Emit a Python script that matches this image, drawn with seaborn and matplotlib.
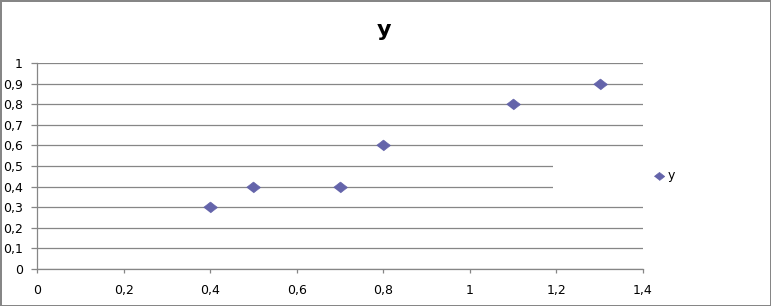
import pandas as pd
import matplotlib
matplotlib.use("Agg")
from matplotlib import pyplot as plt
from matplotlib.patches import Rectangle
import seaborn as sns

# data
x_values = [0.4, 0.5, 0.7, 0.8, 1.1, 1.3]
y_values = [0.3, 0.4, 0.4, 0.6, 0.8, 0.9]
x_ticks = [0, 0.2, 0.4, 0.6, 0.8, 1.0, 1.2, 1.4]
x_tick_labels = ["0", "0,2", "0,4", "0,6", "0,8", "1", "1,2", "1,4"]
y_ticks = [0, 0.1, 0.2, 0.3, 0.4, 0.5, 0.6, 0.7, 0.8, 0.9, 1.0]
y_tick_labels = ["0", "0,1", "0,2", "0,3", "0,4", "0,5", "0,6", "0,7", "0,8", "0,9", "1"]
series_name = "y"

grey = "#868686"
marker_color = "#6464AA"
diamond = [(-1, 0), (0, 0.78), (1, 0), (0, -0.78)]

sns.set_style("white")
plt.rcParams["font.family"] = ["DejaVu Sans"]
plt.rcParams["text.color"] = "black"
plt.rcParams["xtick.labelcolor"] = "black"
plt.rcParams["ytick.labelcolor"] = "black"

fig = plt.figure(figsize=(7.71, 3.06), dpi=100)
fig.patch.set_edgecolor(grey)
fig.patch.set_linewidth(2)
ax = fig.add_axes([37 / 771, 37 / 306, 606 / 771, 206 / 306])

plot_data = pd.DataFrame({"x": x_values, series_name: y_values})
sns.scatterplot(data=plot_data, x="x", y=series_name, marker=diamond, s=100,
                color=marker_color, edgecolor=marker_color, linewidth=0.5,
                label=series_name, ax=ax, zorder=3)

ax.set_xlim(0, 1.4)
ax.set_ylim(0, 1)
ax.set_xticks(x_ticks)
ax.set_xticklabels(x_tick_labels)
ax.set_yticks(y_ticks)
ax.set_yticklabels(y_tick_labels)
ax.set_xlabel("")
ax.set_ylabel("")
ax.grid(axis="y", color=grey, linewidth=0.9)
ax.set_axisbelow(True)
sns.despine(ax=ax, top=True, right=True)
for side in ["left", "bottom"]:
    ax.spines[side].set_color(grey)
    ax.spines[side].set_linewidth(0.9)
ax.tick_params(axis="y", direction="out", length=4.3, width=0.9, color=grey,
               pad=6, labelsize=9, left=True)
ax.tick_params(axis="x", direction="out", length=3, width=0.9, color=grey,
               pad=8, labelsize=9, bottom=True)

fig.text(384 / 771, 1 - 30 / 306, series_name, ha="center", va="center",
         fontsize=16, fontweight="bold", color="black")

# white legend area that hides part of the gridlines, as in the reference
fig.patches.append(Rectangle((553 / 771, 111 / 306), 110 / 771, 42 / 306,
                             transform=fig.transFigure, facecolor="white",
                             edgecolor="none", zorder=2))
handles, labels = ax.get_legend_handles_labels()
ax.get_legend().remove()
leg = fig.legend(handles, labels, loc="center left",
                 bbox_to_anchor=(645 / 771, 1 - 176 / 306), frameon=False,
                 fontsize=9, handletextpad=0.1, markerscale=0.75,
                 borderpad=0, handlelength=1.2)

fig.savefig("out.png", dpi=100)
